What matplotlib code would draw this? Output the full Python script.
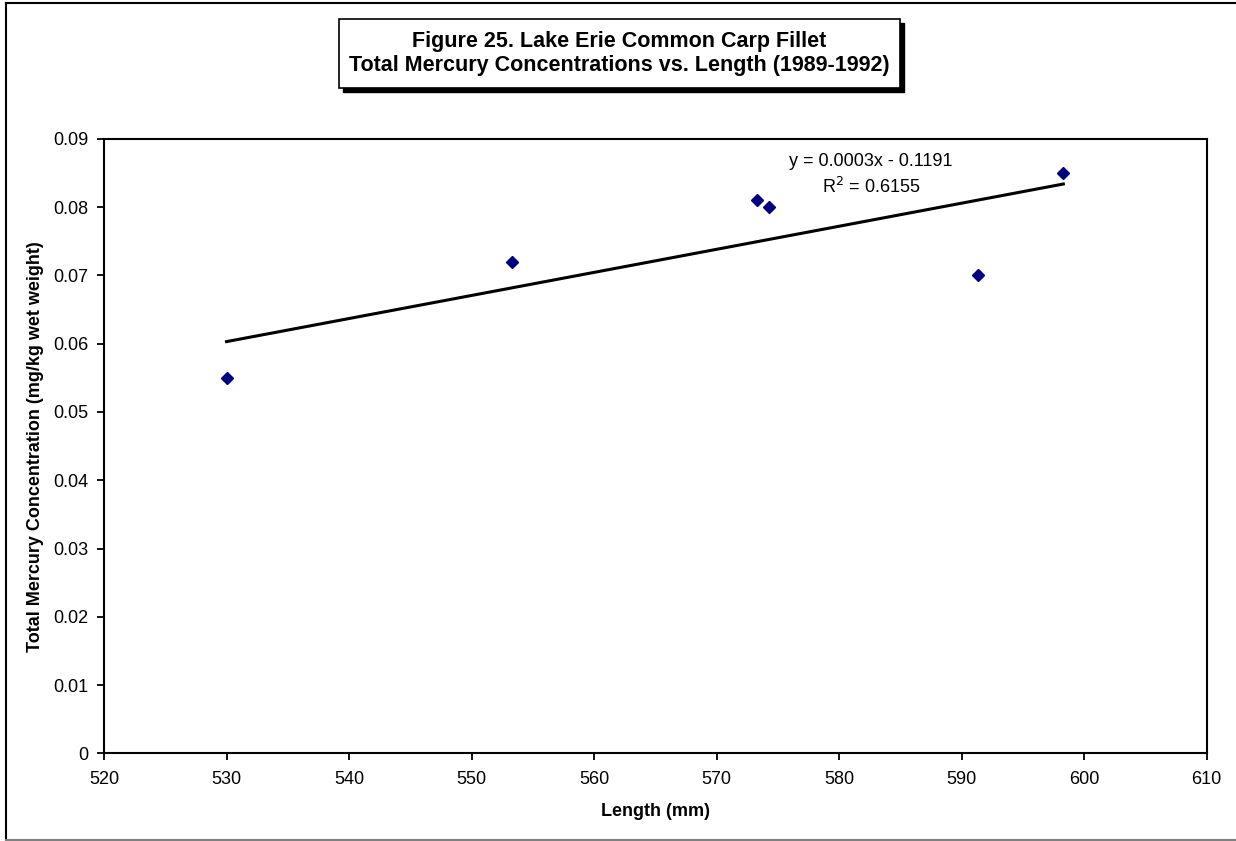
import numpy as np
import matplotlib
matplotlib.use("Agg")
import matplotlib.pyplot as plt
from matplotlib.patches import Rectangle
from matplotlib.lines import Line2D

plt.rcParams['font.family'] = ['Liberation Sans', 'DejaVu Sans']

# Data
length_mm = [530.0, 553.3, 573.3, 574.3, 591.3, 598.3]
mercury = [0.055, 0.072, 0.081, 0.080, 0.070, 0.085]
x_ticks = [520, 530, 540, 550, 560, 570, 580, 590, 600, 610]
y_ticks = [0, 0.01, 0.02, 0.03, 0.04, 0.05, 0.06, 0.07, 0.08, 0.09]
y_tick_labels = ['0', '0.01', '0.02', '0.03', '0.04', '0.05', '0.06', '0.07', '0.08', '0.09']
title_lines = ["Figure 25. Lake Erie Common Carp Fillet",
               "Total Mercury Concentrations vs. Length (1989-1992)"]
eq_text = "y = 0.0003x - 0.1191"
r2_text = "R$^2$ = 0.6155"

W, H = 1236, 841
fig = plt.figure(figsize=(W / 100, H / 100), dpi=100)

def fx(px):
    return px / W

def fy(py):
    return 1 - py / H

AX_L, AX_R, AX_T, AX_B = 104, 1206.7, 138.7, 753.4
ax = fig.add_axes([fx(AX_L), fy(AX_B), fx(AX_R) - fx(AX_L), fy(AX_T) - fy(AX_B)])

x = np.array(length_mm)
y = np.array(mercury)
coef = np.polyfit(x, y, 1)
xl = np.array([x.min(), x.max()])
ax.plot(xl, np.polyval(coef, xl), color='black', lw=2.2, zorder=2)
ax.plot(x, y, linestyle='none', marker='D', markersize=6, color='#000080', zorder=3)

ax.set_xlim(520, 610)
ax.set_ylim(0, 0.09)
ax.set_xticks(x_ticks)
ax.set_yticks(y_ticks)
ax.set_yticklabels(y_tick_labels)
ax.tick_params(direction='out', length=5, width=1.3, labelsize=13)
ax.tick_params(axis='x', pad=8)
ax.tick_params(axis='y', pad=6)
for s in ax.spines.values():
    s.set_linewidth(1.5)

ax.set_xlabel("Length (mm)", fontsize=13, fontweight='bold', va='center')
ax.set_ylabel("Total Mercury Concentration (mg/kg wet weight)", fontsize=13, fontweight='bold', va='center')
ax.xaxis.set_label_coords(((AX_L + AX_R) / 2 - AX_L) / (AX_R - AX_L), -(811 - AX_B) / (AX_B - AX_T))
ax.yaxis.set_label_coords(-(AX_L - 35.5) / (AX_R - AX_L), (AX_B - 447) / (AX_B - AX_T))

ax.text(582.6, (AX_B - 161) / 6830, eq_text, fontsize=13, ha='center', va='center')
ax.text(582.6, (AX_B - 187) / 6830, r2_text, fontsize=13, ha='center', va='center')

# Title box with shadow
bx0, by0, bx1, by1 = 339, 19, 900, 88
sh = 4
fig.patches.append(Rectangle((fx(bx0 + sh), fy(by1 + sh)), fx(bx1 - bx0), fy(by0) - fy(by1),
                             transform=fig.transFigure, facecolor='black', edgecolor='black', zorder=1))
fig.patches.append(Rectangle((fx(bx0), fy(by1)), fx(bx1 - bx0), fy(by0) - fy(by1),
                             transform=fig.transFigure, facecolor='white', edgecolor='black', lw=1.2, zorder=2))
fig.text(fx((bx0 + bx1) / 2), fy(42), title_lines[0], fontsize=15.5, fontweight='bold',
         ha='center', va='center', zorder=3)
fig.text(fx((bx0 + bx1) / 2), fy(66), title_lines[1], fontsize=15.5, fontweight='bold',
         ha='center', va='center', zorder=3)

# Outer chart border
fig.lines.append(Line2D([fx(6), fx(6)], [fy(3), fy(840)], transform=fig.transFigure, color='black', lw=1.5))
fig.lines.append(Line2D([fx(6), fx(1236)], [fy(3), fy(3)], transform=fig.transFigure, color='black', lw=1.5))
fig.lines.append(Line2D([fx(6), fx(1236)], [fy(840), fy(840)], transform=fig.transFigure, color='#808080', lw=1.5))

fig.savefig("out.png", dpi=100)
